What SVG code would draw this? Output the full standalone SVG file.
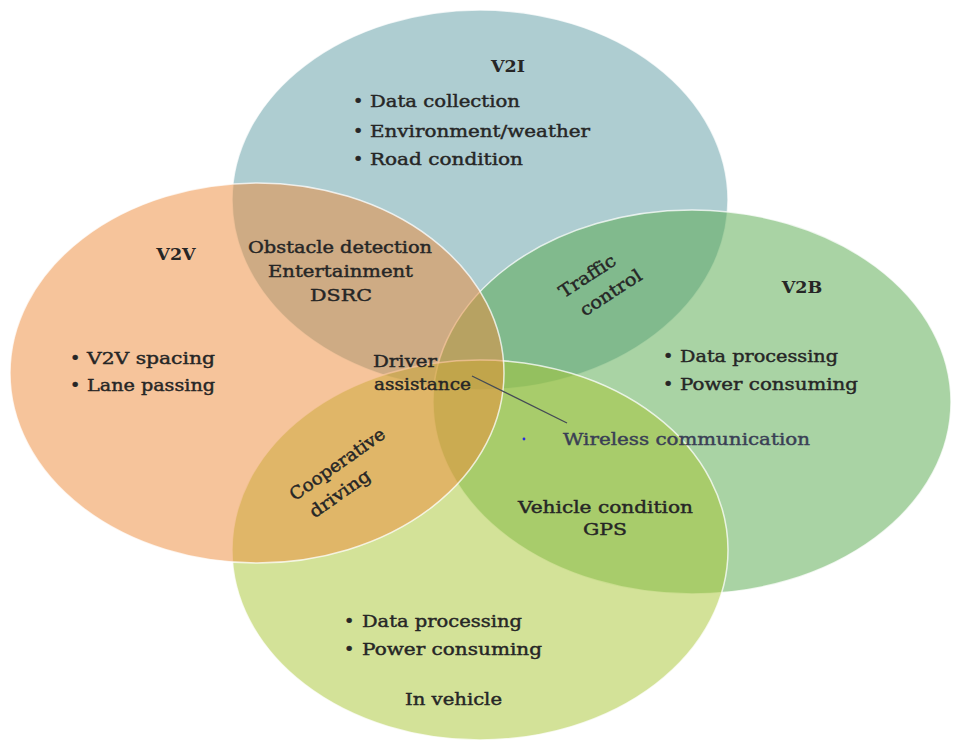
<svg xmlns="http://www.w3.org/2000/svg" width="953" height="742" viewBox="0 0 953 742">
<style>
.e{fill-opacity:0.5;stroke:#ffffff;stroke-opacity:0.75;stroke-width:1.5}
.t{font-family:"DejaVu Serif","Liberation Serif",serif;font-size:17.5px;fill:#262626;stroke:#262626;stroke-width:0.45}
.h{font-family:"DejaVu Serif","Liberation Serif",serif;font-size:17.5px;font-weight:bold;fill:#262626}
.m{text-anchor:middle}
.w{fill:#3a3f55;stroke:#3a3f55}
</style>
<rect width="953" height="742" fill="#ffffff"/>
<g id="v2i">
<ellipse class="e" cx="480" cy="200" rx="248" ry="190" fill="#5d9ba3"/>
</g>
<g id="v2b">
<ellipse class="e" cx="692" cy="402" rx="259" ry="192" fill="#53a749"/>
</g>
<g id="in-vehicle">
<ellipse class="e" cx="480" cy="550" rx="248" ry="190" fill="#a7c531"/>
</g>
<g id="v2v">
<ellipse class="e" cx="257" cy="373" rx="247" ry="190" fill="#ed8937"/>
</g>
<g id="v2i-labels">
<text class="h m" x="508" y="72">V2I</text>
<text class="t" x="353" y="107">•</text>
<text class="t" x="370" y="107" textLength="150" lengthAdjust="spacingAndGlyphs">Data collection</text>
<text class="t" x="353" y="137">•</text>
<text class="t" x="370" y="137" textLength="220" lengthAdjust="spacingAndGlyphs">Environment/weather</text>
<text class="t" x="353" y="165">•</text>
<text class="t" x="370" y="165" textLength="153" lengthAdjust="spacingAndGlyphs">Road condition</text>
</g>
<g id="v2v-labels">
<text class="h m" x="176" y="260">V2V</text>
<text class="t" x="70" y="364">•</text>
<text class="t" x="87" y="364" textLength="128" lengthAdjust="spacingAndGlyphs">V2V spacing</text>
<text class="t" x="70" y="391">•</text>
<text class="t" x="87" y="391" textLength="128" lengthAdjust="spacingAndGlyphs">Lane passing</text>
</g>
<g id="v2b-labels">
<text class="h m" x="802" y="293">V2B</text>
<text class="t" x="663" y="362">•</text>
<text class="t" x="680" y="362" textLength="158" lengthAdjust="spacingAndGlyphs">Data processing</text>
<text class="t" x="663" y="390">•</text>
<text class="t" x="680" y="390" textLength="178" lengthAdjust="spacingAndGlyphs">Power consuming</text>
</g>
<g id="in-vehicle-labels">
<text class="t" x="344" y="627">•</text>
<text class="t" x="362" y="627" textLength="160" lengthAdjust="spacingAndGlyphs">Data processing</text>
<text class="t" x="344" y="655">•</text>
<text class="t" x="362" y="655" textLength="180" lengthAdjust="spacingAndGlyphs">Power consuming</text>
<text class="t" x="405" y="705" textLength="97" lengthAdjust="spacingAndGlyphs">In vehicle</text>
</g>
<g id="v2v-v2i-overlap">
<text class="t" x="248" y="253" textLength="184" lengthAdjust="spacingAndGlyphs">Obstacle detection</text>
<text class="t" x="268" y="277" textLength="145" lengthAdjust="spacingAndGlyphs">Entertainment</text>
<text class="t" x="310" y="301" textLength="62" lengthAdjust="spacingAndGlyphs">DSRC</text>
</g>
<g id="v2i-v2b-overlap">
<text class="t m" transform="translate(587.5,276.5) rotate(-33)" x="0" y="5.5" textLength="64" lengthAdjust="spacingAndGlyphs">Traffic</text>
<text class="t m" transform="translate(611,293) rotate(-33)" x="0" y="5.5" textLength="70" lengthAdjust="spacingAndGlyphs">control</text>
</g>
<g id="v2v-invehicle-overlap">
<text class="t m" transform="translate(337.5,464.5) rotate(-35)" x="0" y="5.5" textLength="112" lengthAdjust="spacingAndGlyphs">Cooperative</text>
<text class="t m" transform="translate(340,494) rotate(-35)" x="0" y="5.5" textLength="70" lengthAdjust="spacingAndGlyphs">driving</text>
</g>
<g id="v2b-invehicle-overlap">
<text class="t" x="518" y="513" textLength="175" lengthAdjust="spacingAndGlyphs">Vehicle condition</text>
<text class="t" x="583" y="535" textLength="44" lengthAdjust="spacingAndGlyphs">GPS</text>
</g>
<g id="center">
<text class="t" x="373" y="367" textLength="64" lengthAdjust="spacingAndGlyphs">Driver</text>
<text class="t" x="374" y="390" textLength="97" lengthAdjust="spacingAndGlyphs">assistance</text>
</g>
<g id="connectors">
<line x1="472" y1="376" x2="567" y2="423" stroke="#444a55" stroke-width="1.3"/>
</g>
<g id="wireless">
<circle cx="524" cy="439" r="1.4" fill="#2a2ae0"/>
<text class="t w" x="563" y="445" textLength="247" lengthAdjust="spacingAndGlyphs">Wireless communication</text>
</g>
</svg>
